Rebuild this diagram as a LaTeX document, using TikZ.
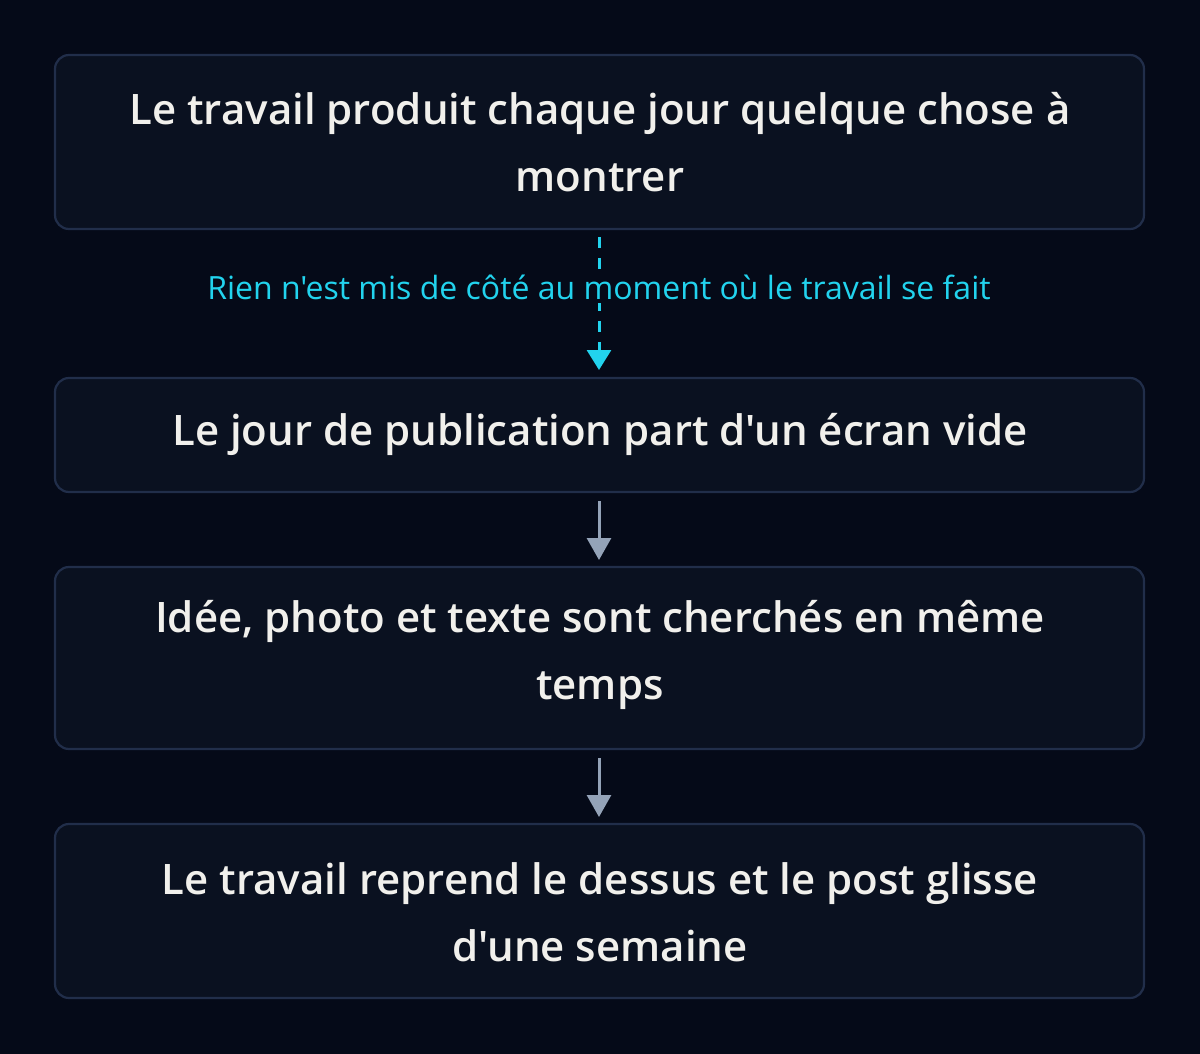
\documentclass[tikz,border=0pt]{standalone}
\usepackage{fontspec}
\setmainfont{Open Sans}
\newfontfamily\medfont{Open Sans Semibold}
\newfontfamily\regfont{Open Sans}
\usetikzlibrary{arrows.meta}
\definecolor{bgc}{HTML}{050A18}
\definecolor{boxfill}{HTML}{0A1120}
\definecolor{boxline}{HTML}{212E4A}
\definecolor{txt}{HTML}{F1F0EC}
\definecolor{cyanc}{HTML}{22D3EE}
\definecolor{grayc}{HTML}{94A3B8}
\begin{document}
\begin{tikzpicture}[x=1pt,y=-1pt,
  stepbox/.style={draw=boxline, line width=2.2pt, fill=boxfill, rounded corners=14pt},
  boxtext/.style={text=txt, font=\medfont\fontsize{42}{67}\selectfont, align=center, inner sep=0pt},
  solidarrow/.style={draw=grayc, line width=3pt, -{Triangle[width=24pt,length=22pt]}},
  dasharrow/.style={draw=cyanc, line width=3pt, dash pattern=on 11pt off 10pt, -{Triangle[width=24pt,length=20pt]}},
  edgelabel/.style={text=cyanc, fill=bgc, font=\regfont\fontsize{32}{36}\selectfont, inner sep=4pt}]
\fill[bgc] (0,0) rectangle (1200,1054);
\useasboundingbox (0,0) rectangle (1200,1054);
\draw[stepbox] (55,55) rectangle (1144,229);
\draw[stepbox] (55,378) rectangle (1144,492);
\draw[stepbox] (55,567) rectangle (1144,749);
\draw[stepbox] (55,824) rectangle (1144,998);
\node[boxtext] (t1) at (600,142) {Le travail produit chaque jour quelque chose à\\montrer};
\node[boxtext] (t2) at (600,434) {Le jour de publication part d'un écran vide};
\node[boxtext] (t3) at (600,655) {Idée, photo et texte sont cherchés en même\\temps};
\node[boxtext] (t4) at (600,912) {Le travail reprend le dessus et le post glisse\\d'une semaine};
\coordinate (a1s) at (599,237);
\coordinate (a1e) at (599,370);
\coordinate (a2s) at (599,501);
\coordinate (a2e) at (599,560);
\coordinate (a3s) at (599,758);
\coordinate (a3e) at (599,817);
\draw[dasharrow] (a1s) -- (a1e);
\node[edgelabel] (lab) at (599,287) {Rien n'est mis de côté au moment où le travail se fait};
\draw[solidarrow] (a2s) -- (a2e);
\draw[solidarrow] (a3s) -- (a3e);
\end{tikzpicture}
\end{document}
